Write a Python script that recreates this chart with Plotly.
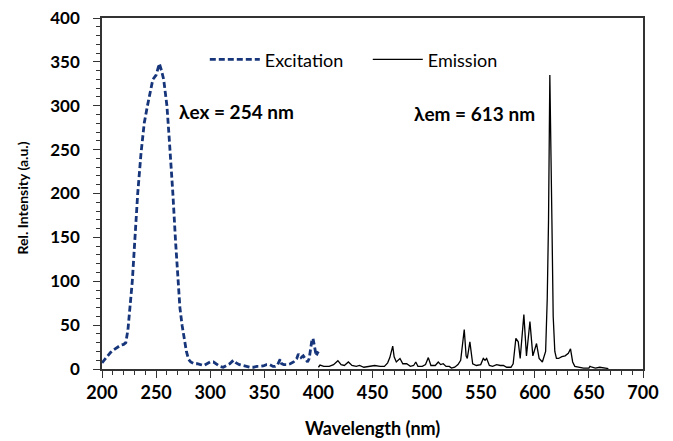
import plotly.graph_objects as go

# Excitation spectrum (dashed)
ex_wl = [200, 202, 205, 208, 211, 214, 217, 220, 222, 224, 226, 228, 230, 233, 236, 239, 242,
         245, 247, 250, 253, 255, 257, 259, 260, 262, 264, 265.5, 268, 270, 272, 274, 276, 278,
         280, 282, 285, 288, 291, 294, 297, 300, 303, 306, 309, 312, 315, 318, 321.5, 324, 327,
         330, 333, 337, 340, 343, 346, 349, 352, 355, 358, 360, 362, 364.6, 366, 368, 371, 374,
         377, 380, 381.5, 384, 386, 388, 390, 391.5, 393, 394, 395, 396, 397, 398, 399, 400]
ex_int = [7, 10, 15, 19, 22, 25, 27, 28, 30, 45, 70, 100, 140, 200, 245, 280, 300,
          318, 330, 335, 348, 340, 330, 310, 300, 265, 230, 200, 145, 100, 70, 50, 32, 20,
          11, 8, 6, 6, 5, 4, 6, 8, 8, 5, 3, 2, 4, 6, 10, 7, 5,
          4, 3, 2, 2, 3, 3, 3.5, 5, 5, 3, 3, 4, 11, 6, 5, 5, 6,
          8, 12, 17, 13, 15, 12, 8, 12, 27, 33, 35, 28, 22, 15, 18, 20]

# Emission spectrum (solid)
em_wl = [400, 401.5, 405, 410, 414, 418, 421, 424, 427.7, 431, 435, 438, 442, 446, 452, 457,
         461, 464, 466, 468.7, 470, 472, 475.4, 478, 481.6, 485, 488, 490, 492, 496, 499, 501.6,
         504, 508, 510.8, 513, 515.4, 518, 521, 523, 526, 529, 531.5, 534.8, 536.5, 537.6, 540,
         542.6, 546, 550, 552.4, 554, 555.5, 558, 561, 564.7, 568, 571, 574, 578, 580, 582.5,
         584.7, 586.5, 589.9, 592.3, 595.5, 598.2, 601.6, 604, 607, 610, 611.5, 612.7, 613.9,
         615.8, 617, 618.5, 620, 622, 625, 628, 631, 633, 635, 637, 640, 645, 650, 651, 653,
         656, 660, 664, 668]
em_int = [2, 4.5, 3, 3, 5, 9.5, 5, 4, 8, 4, 3, 4, 2, 3, 4, 3,
          3, 7, 13, 26, 14, 8, 12, 6, 6, 3, 4, 8, 3, 3, 5, 13,
          4, 4, 8, 5, 6, 3, 3, 1, 2, 5, 10, 45, 15, 12, 31,
          6, 4, 5, 12, 10, 12, 4, 3, 5, 4, 4, 2, 2, 6, 35,
          31, 12, 62, 15, 54, 15, 29, 12, 8, 20, 80, 170, 335,
          170, 60, 20, 12, 12, 14, 15, 18, 23, 8, 3, 2, 1, 1, 3, 2,
          1, 2, 1, 0.5]

x_ticks = [200, 250, 300, 350, 400, 450, 500, 550, 600, 650, 700]
y_ticks = [0, 50, 100, 150, 200, 250, 300, 350, 400]

x_title = "Wavelength (nm)"
y_title = "Rel. Intensity (a.u.)"

FONT = "Lato"

fig = go.Figure()
fig.add_trace(go.Scatter(x=ex_wl, y=ex_int, mode="lines", name="Excitation",
                         line=dict(color="#16357a", width=2.8, dash="6px,3px")))
fig.add_trace(go.Scatter(x=em_wl, y=em_int, mode="lines", name="Emission",
                         line=dict(color="black", width=1.3)))

fig.add_annotation(x=0.138, y=0.734, xref="paper", yref="paper", showarrow=False,
                   text="<b>λex = 254 nm</b>", font=dict(family=FONT, size=19, color="black"),
                   xanchor="left", yanchor="middle")
fig.add_annotation(x=0.573, y=0.728, xref="paper", yref="paper", showarrow=False,
                   text="<b>λem = 613 nm</b>", font=dict(family=FONT, size=19, color="black"),
                   xanchor="left", yanchor="middle")

# axis titles placed as annotations for exact positioning
fig.add_annotation(x=0.5, y=-0.167, xref="paper", yref="paper", showarrow=False,
                   text=f"<b>{x_title}</b>", font=dict(family=FONT, size=18, color="black"),
                   xanchor="center", yanchor="middle")
fig.add_annotation(x=-0.147, y=0.487, xref="paper", yref="paper", showarrow=False,
                   text=f"<b>{y_title}</b>", font=dict(family=FONT, size=14, color="black"),
                   textangle=-90, xanchor="center", yanchor="middle")

fig.update_layout(
    width=673, height=441,
    margin=dict(l=94, r=38, t=10, b=80),
    plot_bgcolor="white", paper_bgcolor="white",
    font=dict(family=FONT, color="black"),
    legend=dict(orientation="h", x=0.19, y=0.881, xanchor="left", yanchor="middle",
                font=dict(family=FONT, size=18, color="black"),
                bgcolor="rgba(0,0,0,0)", entrywidth=98, entrywidthmode="pixels",
                itemwidth=50, tracegroupgap=0),
    showlegend=True,
)
fig.update_xaxes(range=[200, 700], tickvals=x_ticks, ticktext=[f"<b>{v}</b>" for v in x_ticks],
                 showgrid=False, zeroline=False, showline=True, linecolor="#333", linewidth=1.5,
                 mirror=True, ticks="outside", ticklen=7, tickcolor="#333", automargin=False,
                 ticklabeloverflow="allow",
                 minor=dict(ticks="outside", dtick=10, ticklen=4, tickcolor="#333"),
                 tickfont=dict(family=FONT, size=18, color="black"))
fig.update_yaxes(range=[0, 400], tickvals=y_ticks, ticktext=[f"<b>{v}</b>" for v in y_ticks],
                 showgrid=False, zeroline=False, showline=True, linecolor="#333", linewidth=1.5,
                 mirror=True, ticks="outside", ticklen=7, tickcolor="#333", automargin=False,
                 ticklabeloverflow="allow", ticklabelstandoff=10,
                 minor=dict(ticks="outside", dtick=10, ticklen=4, tickcolor="#333"),
                 tickfont=dict(family=FONT, size=17, color="black"))

fig.write_html("out.html")
